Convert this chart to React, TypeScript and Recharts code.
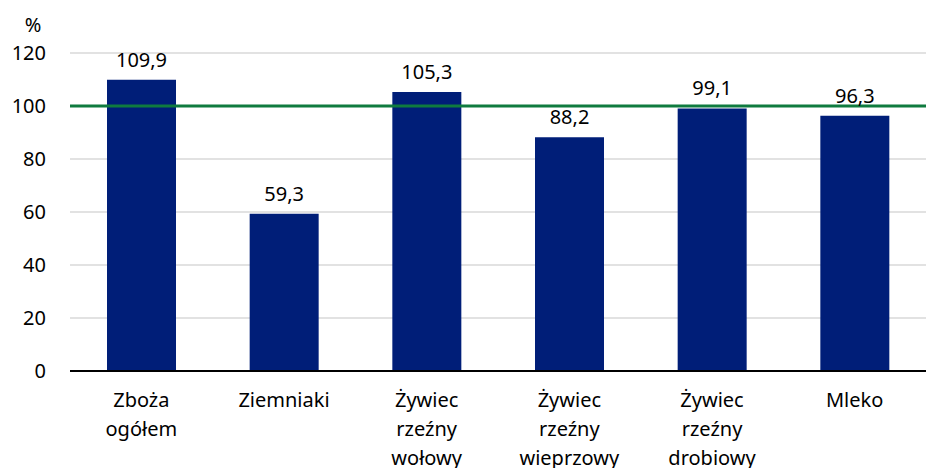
import React from 'react';
import {
  BarChart,
  Bar,
  XAxis,
  YAxis,
  CartesianGrid,
  ReferenceLine,
  LabelList,
} from 'recharts';

const categories = [
  'Zboża\nogółem',
  'Ziemniaki',
  'Żywiec\nrzeźny\nwołowy',
  'Żywiec\nrzeźny\nwieprzowy',
  'Żywiec\nrzeźny\ndrobiowy',
  'Mleko',
];
const values = [109.9, 59.3, 105.3, 88.2, 99.1, 96.3];
const yTicks = [0, 20, 40, 60, 80, 100, 120];

const FONT = '"Noto Sans", sans-serif';
const BAR_COLOR = '#001e78';
const LINE_COLOR = '#0f7b3f';

const data = categories.map((name, i) => ({ name, value: values[i] }));

const fmt = (v: any) => String(v).replace('.', ',');

const XTick: React.FC<any> = ({ x, y, payload }) => {
  const lines = String(payload.value).split('\n');
  return (
    <text x={x} y={y + 28} textAnchor="middle" fill="#000" fontSize={20} fontFamily={FONT}>
      {lines.map((l, i) => (
        <tspan key={i} x={x} dy={i === 0 ? 0 : 29}>
          {l}
        </tspan>
      ))}
    </text>
  );
};

const YTick: React.FC<any> = ({ y, payload }) => (
  <text x={46} y={y + 7} textAnchor="end" fill="#000" fontSize={20} fontFamily={FONT}>
    {payload.value}
  </text>
);

export default function App() {
  return (
    <div style={{ position: 'fixed', left: 0, top: 0, width: 926, height: 468, background: '#fff' }}>
      <svg style={{ position: 'absolute', left: 0, top: 0 }} width={80} height={40}>
        <text x={33} y={32} textAnchor="middle" fontSize={20} fontFamily={FONT} fill="#000">
          %
        </text>
      </svg>
      <BarChart
        width={926}
        height={468}
        data={data}
        margin={{ top: 53, right: 0, left: 0, bottom: 0 }}
        barSize={69}
      >
        <CartesianGrid vertical={false} stroke="#d9d9d9" strokeWidth={1.5} />
        <XAxis
          dataKey="name"
          height={97}
          interval={0}
          tickLine={false}
          axisLine={{ stroke: '#000', strokeWidth: 2 }}
          tick={<XTick />}
        />
        <YAxis
          width={70}
          domain={[0, 120]}
          ticks={yTicks}
          tickLine={false}
          axisLine={false}
          tick={<YTick />}
        />
        <Bar dataKey="value" fill={BAR_COLOR} isAnimationActive={false}>
          <LabelList
            dataKey="value"
            position="top"
            offset={13}
            formatter={fmt}
            fill="#000"
            fontSize={20}
            fontFamily={FONT}
          />
        </Bar>
        <ReferenceLine y={100} stroke={LINE_COLOR} strokeWidth={3} />
      </BarChart>
    </div>
  );
}
